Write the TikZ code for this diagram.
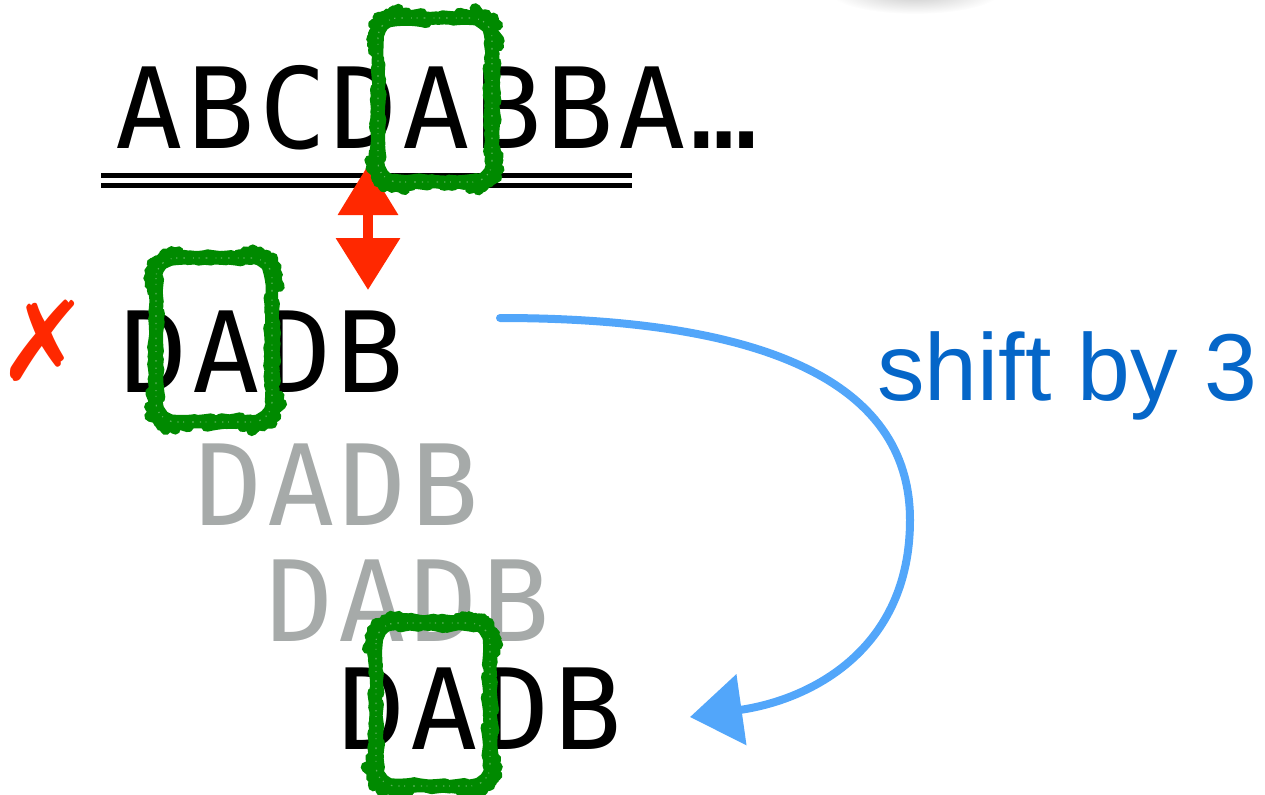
\documentclass[tikz,border=0pt]{standalone}
\usepackage{fontspec}
\usetikzlibrary{arrows.meta,decorations.pathmorphing,fadings}

\newfontfamily\seqfont[LetterSpace=4]{DejaVu Sans Mono}
\newfontfamily\notefont{Liberation Sans}
\newfontfamily\symfont{DejaVu Sans}

\definecolor{matchgreen}{RGB}{0,138,0}
\definecolor{mismatchred}{RGB}{255,40,0}
\definecolor{shiftblue}{RGB}{82,166,250}
\definecolor{notetext}{RGB}{5,102,200}
\definecolor{ghost}{RGB}{166,170,169}

\tikzfading[name=softspot, inner color=transparent!25, outer color=transparent!100]

\tikzset{
  seq/.style={inner sep=0pt, anchor=base west,
    font=\seqfont\fontsize{56pt}{60pt}\selectfont},
  ghostseq/.style={seq, text=ghost},
  chalk/.style={draw=matchgreen, line width=5.5pt, line join=round,
    rounded corners=10pt,
    decoration={random steps, segment length=2.5pt, amplitude=0.35pt},
    decorate},
  chalkgrain/.style={draw=white, line width=0.6pt, opacity=0.35,
    dash pattern=on 0.6pt off 2.3pt on 0.4pt off 4.1pt on 0.8pt off 3pt,
    rounded corners=10pt},
  compare/.style={draw=mismatchred, line width=5pt,
    {Triangle[length=25pt,width=29pt]}-{Triangle[length=26pt,width=31pt]}},
  shiftarrow/.style={draw=shiftblue, line width=4pt, line cap=round,
    -{Triangle[length=26pt,width=35pt]}},
}

\begin{document}
\begin{tikzpicture}[x=0.5pt,y=-0.5pt]
\useasboundingbox (0,0) rectangle (1265,794);

% soft shadow at the top edge
\fill[black, opacity=0.3, path fading=softspot]
  (915,-8) ellipse [x radius=85, y radius=22];

% text being searched, with its double underline
\node[seq] (text) at (115,148) {ABCDABBA…};
\draw[line width=2.5pt] (101,175) -- (632,175);
\draw[line width=2.5pt] (101,185) -- (632,185);

% pattern positions
\node[seq] (p0) at (120,392) {DADB};
\node[ghostseq] (p1) at (195,525) {DADB};
\node[ghostseq] (p2) at (266,641) {DADB};
\node[seq] (p3) at (338,749) {DADB};

% mismatch mark
\node[text=mismatchred, inner sep=0pt, font=\symfont\fontsize{55pt}{58pt}\selectfont]
  (cross) at (44,341) {✗};

% comparison arrow between text and pattern
\coordinate (cmpTop) at (368,165);
\coordinate (cmpBot) at (368,290);
\draw[compare] (cmpTop) -- (cmpBot);

% highlighted matching characters
\pgfmathsetseed{11}
\draw[chalk] (378,18) rectangle (492,182);
\draw[chalkgrain] (378,18) rectangle (492,182);
\draw[chalk] (156,258) rectangle (272,422);
\draw[chalkgrain] (156,258) rectangle (272,422);
\draw[chalk] (376,623) rectangle (490,786);
\draw[chalkgrain] (376,623) rectangle (490,786);

% shift arrow
\coordinate (shiftFrom) at (500,318);
\coordinate (shiftMid) at (910,520);
\coordinate (shiftTo) at (690,717);
\draw[shiftarrow] (shiftFrom) .. controls (760,318) and (910,380) .. (shiftMid)
  .. controls (910,650) and (810,700) .. (shiftTo);

\node[anchor=base west, inner sep=0pt, text=notetext,
  font=\notefont\fontsize{47.5pt}{50pt}\selectfont] (note) at (877,400) {shift by 3};
\end{tikzpicture}
\end{document}
